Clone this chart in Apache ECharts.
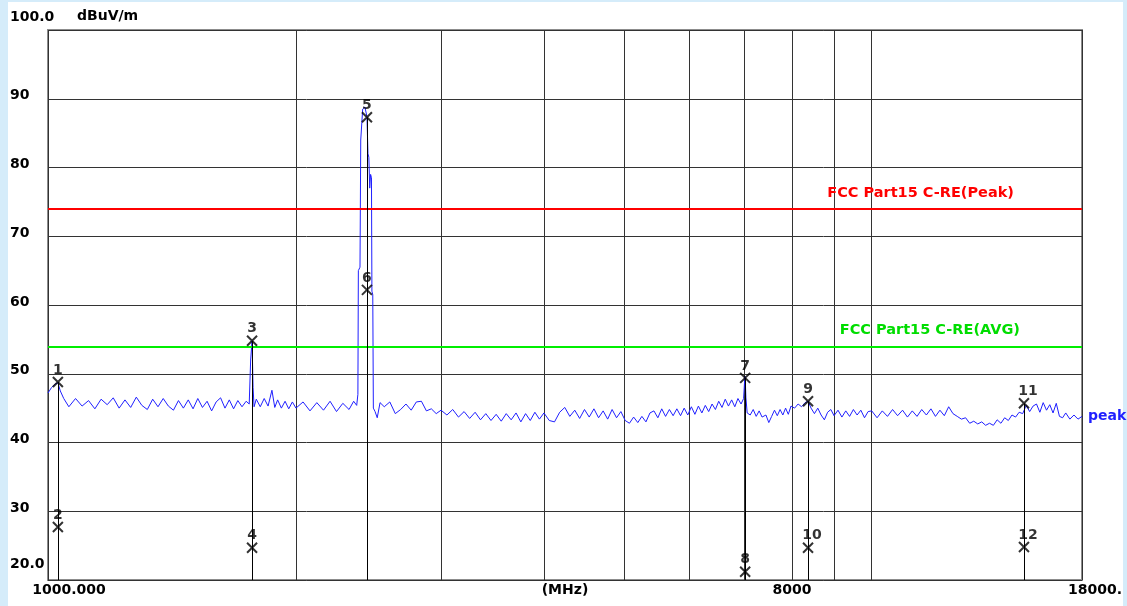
<!DOCTYPE html>
<html>
<head>
<meta charset="utf-8">
<title>FCC Part15 C-RE</title>
<script src="https://cdn.jsdelivr.net/npm/echarts@6/dist/echarts.min.js"></script>
<style>
html, body { margin: 0; padding: 0; background: #d5ecfa; overflow: hidden; }
#panel { position: absolute; left: 8px; top: 2px; width: 1115px; height: 604px; background: #fff; }
#chart { position: absolute; left: 0; top: 0; width: 1127px; height: 606px; }
</style>
</head>
<body>
<div id="panel"></div>
<div id="chart"></div>
<script>
// measured trace, [MHz, dBuV/m]
var traceData = [
  [1000,47.2],[1010,48.0],[1020,48.5],[1028,48.7],[1035,47.5],[1045,46.4],[1060,45.2],[1080,46.4],
  [1100,45.3],[1120,46.1],[1140,44.9],[1160,46.3],[1180,45.5],[1200,46.5],[1220,45.0],[1240,46.2],
  [1260,45.1],[1280,46.6],[1300,45.4],[1320,44.8],[1340,46.3],[1360,45.2],[1380,46.4],[1400,45.3],
  [1420,44.7],[1440,46.1],[1460,45.0],[1480,46.2],[1500,44.9],[1520,46.4],[1540,45.1],[1560,46.0],
  [1580,44.6],[1600,45.9],[1620,46.5],[1640,45.0],[1660,46.2],[1680,44.9],[1700,46.1],[1720,45.2],
  [1740,46.0],[1755,45.6],[1762,52.0],[1769,54.8],[1774,48.0],[1779,45.2],[1790,46.3],[1810,45.2],
  [1830,46.4],[1850,45.3],[1870,47.6],[1885,45.1],[1900,46.2],[1920,45.0],[1940,46.0],[1960,44.9],
  [1980,45.9],[2000,45.0],[2040,45.9],[2080,44.6],[2120,45.8],[2160,44.7],[2200,46.0],[2240,44.5],
  [2280,45.7],[2320,44.8],[2350,46.0],[2370,45.4],[2378,47.0],[2381,65.0],[2392,65.5],[2397,84.0],
  [2410,88.5],[2425,88.8],[2439,87.4],[2446,82.0],[2452,81.5],[2458,77.0],[2464,79.0],[2470,78.5],
  [2473,62.0],[2479,61.5],[2483,45.0],[2495,44.5],[2510,43.6],[2530,45.8],[2560,45.2],[2600,45.9],
  [2640,44.2],[2680,44.8],[2720,45.6],[2760,44.7],[2800,45.9],[2840,46.0],[2880,44.6],[2920,44.9],
  [2960,44.2],[3000,44.7],[3050,44.0],[3100,44.8],[3150,43.7],[3200,44.5],[3250,43.5],[3300,44.4],
  [3350,43.3],[3400,44.2],[3450,43.2],[3500,44.1],[3550,43.1],[3600,44.2],[3650,43.3],[3700,44.3],
  [3750,43.0],[3800,44.2],[3850,43.2],[3900,44.4],[3950,43.4],[4000,44.3],[4060,43.2],[4120,43.0],
  [4180,44.4],[4240,45.1],[4300,43.8],[4360,44.7],[4420,43.5],[4480,44.8],[4540,43.7],[4600,44.9],
  [4660,43.6],[4720,44.6],[4780,43.4],[4840,44.8],[4900,43.6],[4960,44.5],[5020,43.2],[5080,42.8],
  [5140,43.7],[5200,42.9],[5260,43.8],[5320,43.0],[5380,44.3],[5440,44.6],[5500,43.6],[5560,44.9],
  [5620,43.8],[5680,44.8],[5740,43.9],[5800,44.9],[5860,43.9],[5920,45.0],[5980,44.0],[6040,45.2],
  [6100,44.1],[6160,45.3],[6220,44.3],[6280,45.4],[6340,44.5],[6400,45.6],[6460,44.8],[6520,46.0],
  [6580,45.1],[6640,46.3],[6700,45.3],[6760,46.2],[6820,45.2],[6880,46.4],[6940,45.6],[6990,46.4],
  [7010,49.0],[7020,49.6],[7035,46.5],[7060,44.3],[7120,44.0],[7180,44.8],[7240,43.8],[7300,44.6],
  [7360,43.7],[7440,44.0],[7500,42.9],[7560,43.8],[7620,44.7],[7680,43.9],[7740,44.8],[7800,44.0],
  [7860,45.0],[7920,44.1],[7980,45.3],[8060,45.0],[8140,45.6],[8220,45.2],[8300,45.8],[8370,46.0],
  [8440,45.0],[8520,44.2],[8600,45.0],[8680,44.0],[8760,43.3],[8840,44.4],[8920,44.8],[9000,43.9],
  [9100,44.7],[9200,43.7],[9300,44.6],[9400,43.8],[9500,44.8],[9600,44.0],[9700,44.7],[9800,43.6],
  [9900,44.5],[10000,44.6],[10150,43.6],[10300,44.6],[10450,43.8],[10600,44.8],[10750,43.9],[10900,44.7],
  [11050,43.7],[11200,44.6],[11350,43.8],[11500,44.8],[11650,44.0],[11800,44.9],[11950,43.8],[12100,44.7],
  [12250,43.9],[12400,45.2],[12550,44.2],[12700,43.8],[12850,43.4],[13000,43.6],[13150,42.8],[13300,43.1],
  [13450,42.7],[13600,43.0],[13750,42.5],[13900,42.8],[14050,42.5],[14200,43.3],[14350,42.8],[14500,43.6],
  [14650,43.2],[14800,44.0],[14950,43.7],[15100,44.4],[15250,44.2],[15400,45.4],[15550,44.5],[15700,45.3],
  [15850,45.6],[16000,44.4],[16150,45.8],[16300,44.7],[16450,45.5],[16600,44.3],[16750,45.7],[16900,43.8],
  [17050,43.6],[17200,44.3],[17400,43.4],[17600,44.0],[17800,43.4],[18000,43.8]
];

// markers 1..12 (pairs share a frequency)
var markerFreq  = [1028, 1028, 1769, 1769, 2439, 2439, 7020, 7020, 8369, 8369, 15305, 15305];
var markerLevel = [48.8, 27.7, 54.8, 24.7, 87.3, 62.2, 49.4, 21.2, 46.0, 24.7, 45.7, 24.8];

var limitPeak = 74;
var limitAvg = 54;
var limitNames = ['FCC Part15 C-RE(Peak)', 'FCC Part15 C-RE(AVG)'];

var xGridFreqs = [1000, 2000, 3000, 4000, 5000, 6000, 7000, 8000, 9000, 10000, 18000];
var xLabelFreqs = [1000, 8000, 18000];
var xLabelText = ['1000.000', '8000', '18000.'];

var yMin = 20, yMax = 100, yStep = 10;

var FONT = 'DejaVu Sans';
var lg = function (f) { return Math.log10(f); };

var chart = echarts.init(document.getElementById('chart'));

var markerPts = markerFreq.map(function (f, i) {
  var name = String(i + 1);
  return {
    value: [lg(f), markerLevel[i]],
    label: { offset: [name.length > 1 ? 4 : 0, 0] }
  };
});

// black drop line from the upper marker of each pair down to the axis
var dropLines = [];
for (var i = 0; i < markerFreq.length; i += 2) {
  var upper = Math.max(markerLevel[i], markerLevel[i + 1]);
  dropLines.push([{ coord: [lg(markerFreq[i]), upper] }, { coord: [lg(markerFreq[i]), yMin] }]);
}

var txt = { fontFamily: FONT, fontWeight: 'bold', fontSize: 14, color: '#000' };

var option = {
  animation: false,
  grid: {
    left: 48, right: 45, top: 30, bottom: 26,
    outerBoundsMode: 'none',
    containLabel: false,
    show: true, borderColor: '#8c8c8c', borderWidth: 2
  },
  xAxis: {
    type: 'value',
    min: 3,
    max: lg(18000),
    axisLine: { show: false },
    axisTick: { show: false, customValues: xGridFreqs.map(lg) },
    splitLine: { show: true, lineStyle: { color: '#333', width: 1 } },
    axisLabel: {
      customValues: xLabelFreqs.map(lg),
      margin: 3,
      formatter: function (v) {
        for (var k = 0; k < xLabelFreqs.length; k++) {
          if (Math.abs(lg(xLabelFreqs[k]) - v) < 1e-6) return '{s' + k + '|' + xLabelText[k] + '}';
        }
        return '';
      },
      rich: {
        s0: Object.assign({ padding: [0, 0, 0, 42] }, txt),
        s1: Object.assign({}, txt),
        s2: Object.assign({ padding: [0, 0, 0, 26] }, txt)
      }
    },
    name: '(MHz)',
    nameLocation: 'middle',
    nameGap: 3,
    nameMoveOverlap: false,
    nameTextStyle: Object.assign({ verticalAlign: 'top' }, txt)
  },
  yAxis: {
    type: 'value',
    min: yMin,
    max: yMax,
    interval: yStep,
    axisLine: { show: false },
    axisTick: { show: false },
    splitLine: { lineStyle: { color: '#333', width: 1 } },
    axisLabel: {
      align: 'left',
      margin: 38,
      formatter: function (v) {
        if (v === yMax) return '{t|100.0}';
        if (v === yMin) return '{b|20.0}';
        return '{n|' + v + '}';
      },
      rich: {
        t: Object.assign({ padding: [0, 0, 25, 0] }, txt),
        b: Object.assign({ padding: [0, 0, 32, 0] }, txt),
        n: Object.assign({ padding: [0, 0, 6, 0] }, txt)
      }
    },
    name: 'dBuV/m',
    nameLocation: 'end',
    nameGap: 7,
    nameMoveOverlap: false,
    nameTextStyle: Object.assign({ align: 'left', padding: [0, 0, 0, 29] }, txt)
  },
  series: [
    {
      name: 'peak',
      type: 'line',
      data: traceData.map(function (p) { return [lg(p[0]), p[1]]; }),
      showSymbol: false,
      lineStyle: { color: '#1f1fff', width: 1 },
      itemStyle: { color: '#1f1fff' },
      z: 3,
      endLabel: {
        show: true,
        formatter: 'peak',
        distance: 6,
        color: '#1f1fff',
        fontFamily: FONT,
        fontWeight: 'bold',
        fontSize: 14
      },
      markLine: {
        silent: true,
        symbol: ['none', 'none'],
        data: [
          {
            yAxis: limitPeak,
            lineStyle: { color: '#ff0000', width: 2, type: 'solid' },
            label: {
              formatter: limitNames[0], position: 'insideEndTop', distance: [68, 8],
              color: '#ff0000', fontFamily: FONT, fontWeight: 'bold', fontSize: 14.5
            }
          },
          {
            yAxis: limitAvg,
            lineStyle: { color: '#00ee00', width: 2, type: 'solid' },
            label: {
              formatter: limitNames[1], position: 'insideEndTop', distance: [62, 9],
              color: '#00dd00', fontFamily: FONT, fontWeight: 'bold', fontSize: 14.5
            }
          }
        ]
      }
    },
    {
      name: 'markers',
      type: 'scatter',
      data: markerPts,
      symbol: 'path://M0,0L10,10M10,0L0,10',
      symbolSize: 10,
      z: 5,
      itemStyle: { color: 'rgba(0,0,0,0)', borderColor: '#000', borderWidth: 2 },
      label: {
        show: true,
        position: 'top',
        distance: -1,
        formatter: function (p) { return String(p.dataIndex + 1); },
        color: '#000',
        fontFamily: FONT,
        fontWeight: 'bold',
        fontSize: 14
      },
      markLine: {
        silent: true,
        symbol: ['none', 'none'],
        label: { show: false },
        lineStyle: { color: '#000', width: 1, type: 'solid' },
        data: dropLines
      }
    }
  ]
};

chart.setOption(option);
</script>
</body>
</html>
